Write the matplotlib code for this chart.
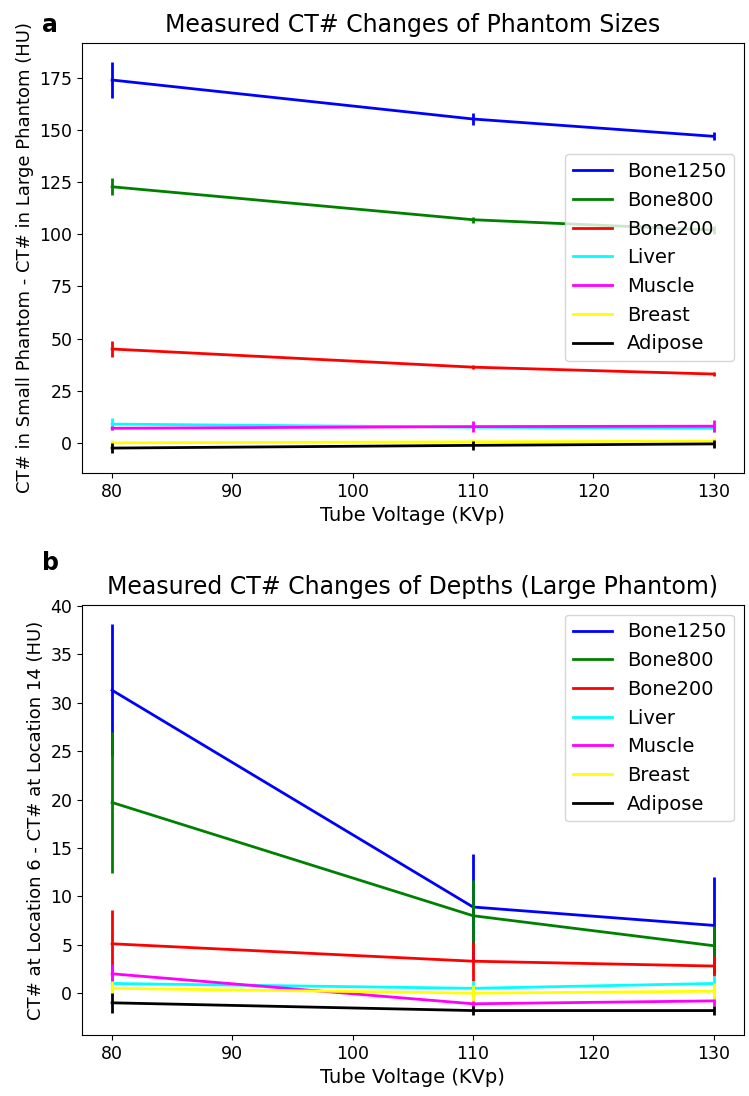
import numpy as np
import matplotlib.pyplot as plt

plt.rcParams.update({'font.size': 12, 'xtick.labelsize': 12.5, 'ytick.labelsize': 12.5})

# Tube voltages
kvp = [80, 110, 130]
materials = ['Bone1250', 'Bone800', 'Bone200', 'Liver', 'Muscle', 'Breast', 'Adipose']
colors = ['blue', 'green', 'red', 'cyan', 'magenta', 'yellow', 'black']

# panel a: small phantom minus large phantom
size_bone1250 = [174.0, 155.3, 147.0]
size_bone800 = [122.8, 107.0, 102.0]
size_bone200 = [45.0, 36.3, 33.0]
size_liver = [9.0, 7.5, 7.0]
size_muscle = [7.0, 7.8, 8.0]
size_breast = [0.0, 0.5, 0.8]
size_adipose = [-2.5, -1.2, -0.5]
size_err_bone1250 = [8.5, 3.0, 2.0]
size_err_bone800 = [4.0, 1.5, 2.0]
size_err_bone200 = [4.0, 1.0, 1.0]
size_err_liver = [3.0, 1.0, 2.0]
size_err_muscle = [1.0, 2.5, 3.0]
size_err_breast = [1.5, 1.5, 1.5]
size_err_adipose = [2.5, 2.0, 2.0]

# panel b: location 6 minus location 14
depth_bone1250 = [31.3, 8.9, 7.0]
depth_bone800 = [19.7, 8.0, 4.9]
depth_bone200 = [5.1, 3.3, 2.8]
depth_liver = [1.0, 0.5, 1.0]
depth_muscle = [2.0, -1.1, -0.8]
depth_breast = [0.5, 0.0, 0.2]
depth_adipose = [-1.0, -1.8, -1.8]
depth_err_bone1250 = [6.8, 5.5, 5.0]
depth_err_bone800 = [7.3, 3.7, 2.0]
depth_err_bone200 = [3.5, 2.0, 1.0]
depth_err_liver = [0.8, 0.8, 0.8]
depth_err_muscle = [1.0, 0.5, 0.5]
depth_err_breast = [0.8, 0.8, 0.8]
depth_err_adipose = [1.0, 0.5, 0.5]

size_vals = [size_bone1250, size_bone800, size_bone200, size_liver,
             size_muscle, size_breast, size_adipose]
size_errs = [size_err_bone1250, size_err_bone800, size_err_bone200, size_err_liver,
             size_err_muscle, size_err_breast, size_err_adipose]
depth_vals = [depth_bone1250, depth_bone800, depth_bone200, depth_liver,
              depth_muscle, depth_breast, depth_adipose]
depth_errs = [depth_err_bone1250, depth_err_bone800, depth_err_bone200, depth_err_liver,
              depth_err_muscle, depth_err_breast, depth_err_adipose]

fig, (ax1, ax2) = plt.subplots(2, 1, figsize=(7.49, 10.96), dpi=100)
fig.subplots_adjust(left=0.1095, right=0.993, top=0.961, bottom=0.0557, hspace=0.307)


def draw(ax, all_vals, all_errs):
    for vals, errs, name, c in zip(all_vals, all_errs, materials, colors):
        ax.errorbar(kvp, vals, yerr=errs, fmt='none', ecolor=c, elinewidth=2)
        ax.plot(kvp, vals, color=c, lw=2, label=name)


draw(ax1, size_vals, size_errs)
ax1.set_title('Measured CT# Changes of Phantom Sizes', fontsize=17, pad=8)
ax1.set_xlabel('Tube Voltage (KVp)', fontsize=14)
ax1.set_ylabel('CT# in Small Phantom - CT# in Large Phantom (HU)', fontsize=13)
ax1.set_yticks(range(0, 176, 25))
ax1.legend(loc='center right', fontsize=14)

draw(ax2, depth_vals, depth_errs)
ax2.set_title('Measured CT# Changes of Depths (Large Phantom)', fontsize=17, pad=8)
ax2.set_xlabel('Tube Voltage (KVp)', fontsize=14)
ax2.set_ylabel('CT# at Location 6 - CT# at Location 14 (HU)', fontsize=13)
ax2.set_yticks(range(0, 41, 5))
ax2.legend(loc='upper right', fontsize=14)

fig.text(0.056, 0.977, 'a', fontsize=17, fontweight='bold', va='center')
fig.text(0.056, 0.486, 'b', fontsize=17, fontweight='bold', va='center')

plt.savefig('out.png')
